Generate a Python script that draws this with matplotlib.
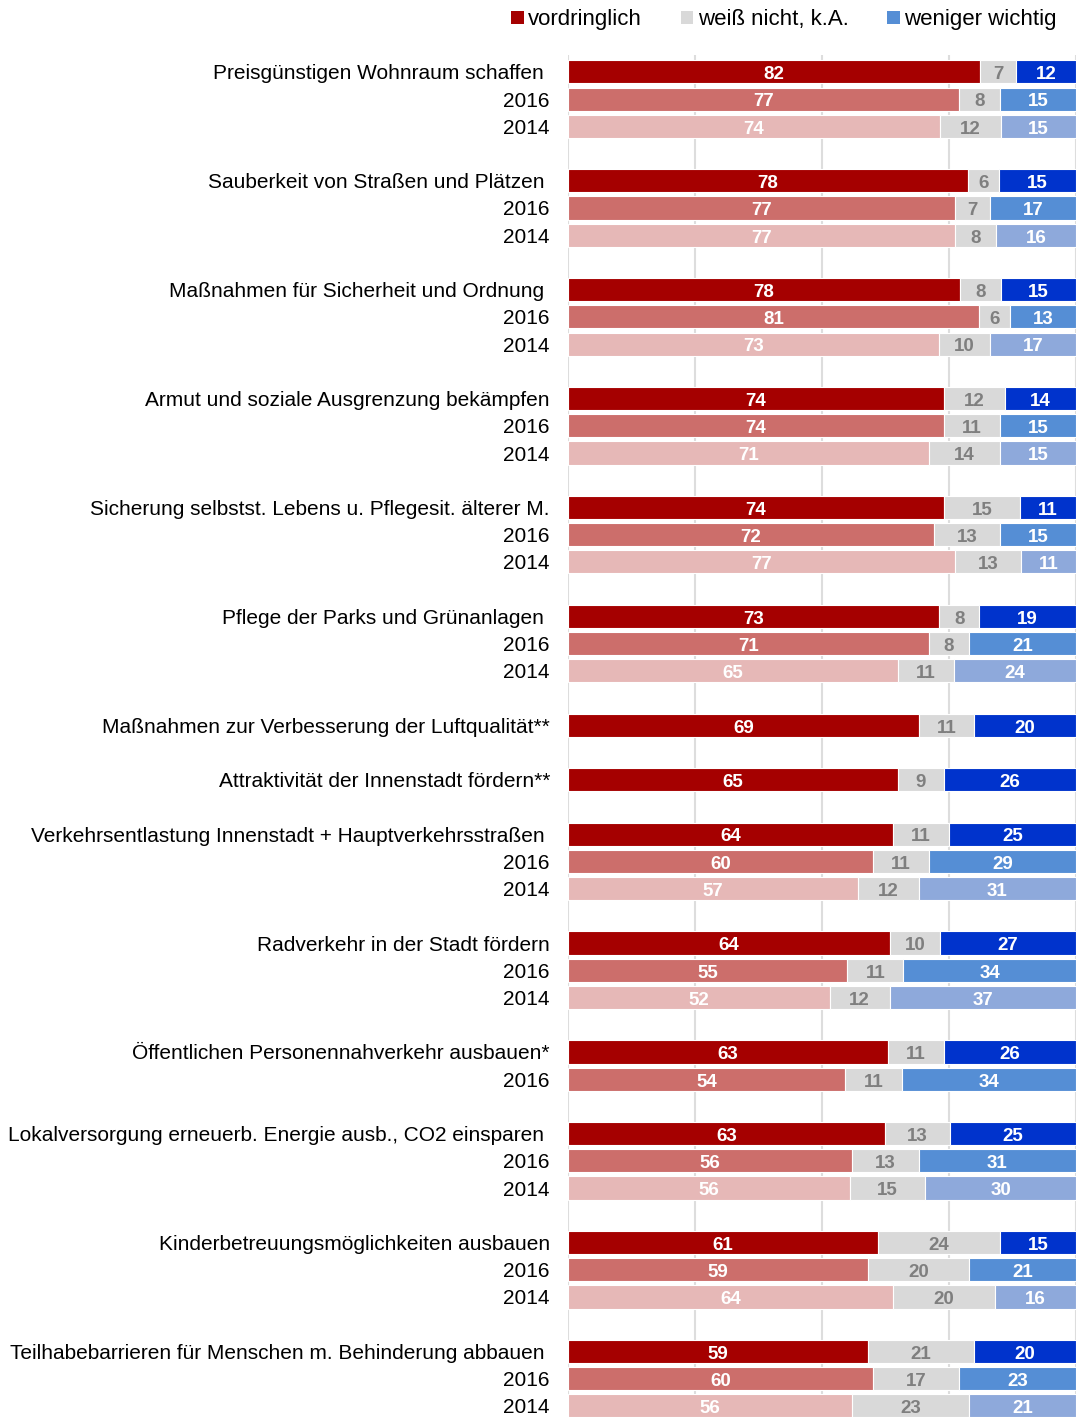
import numpy as np
import matplotlib.pyplot as plt
from matplotlib.patches import Patch

plt.rcParams['font.family'] = ['Liberation Sans', 'DejaVu Sans']

labels = ["Preisgünstigen Wohnraum schaffen ",
          "Sauberkeit von Straßen und Plätzen ",
          "Maßnahmen für Sicherheit und Ordnung ",
          "Armut und soziale Ausgrenzung bekämpfen",
          "Sicherung selbstst. Lebens u. Pflegesit. älterer M.",
          "Pflege der Parks und Grünanlagen ",
          "Maßnahmen zur Verbesserung der Luftqualität**",
          "Attraktivität der Innenstadt fördern**",
          "Verkehrsentlastung Innenstadt + Hauptverkehrsstraßen ",
          "Radverkehr in der Stadt fördern",
          "Öffentlichen Personennahverkehr ausbauen*",
          "Lokalversorgung erneuerb. Energie ausb., CO2 einsparen ",
          "Kinderbetreuungsmöglichkeiten ausbauen",
          "Teilhabebarrieren für Menschen m. Behinderung abbauen "]

# current survey: vordringlich, weiß nicht, weniger wichtig
cur_high = [82, 78, 78, 74, 74, 73, 69, 65, 64, 64, 63, 63, 61, 59]
cur_na   = [7, 6, 8, 12, 15, 8, 11, 9, 11, 10, 11, 13, 24, 21]
cur_low  = [12, 15, 15, 14, 11, 19, 20, 26, 25, 27, 26, 25, 15, 20]

y16_high = [77, 77, 81, 74, 72, 71, None, None, 60, 55, 54, 56, 59, 60]
y16_na   = [8, 7, 6, 11, 13, 8, None, None, 11, 11, 11, 13, 20, 17]
y16_low  = [15, 17, 13, 15, 15, 21, None, None, 29, 34, 34, 31, 21, 23]

y14_high = [74, 77, 73, 71, 77, 65, None, None, 57, 52, None, 56, 64, 56]
y14_na   = [12, 8, 10, 14, 13, 11, None, None, 12, 12, None, 15, 20, 23]
y14_low  = [15, 16, 17, 15, 11, 24, None, None, 31, 37, None, 30, 16, 21]

legend_labels = ["vordringlich", "weiß nicht, k.A.", "weniger wichtig"]

colors = {
    "cur": ["#A50000", "#D9D9D9", "#0033CC"],
    "2016": ["#CC6E6B", "#D9D9D9", "#558ED5"],
    "2014": ["#E6B8B7", "#D9D9D9", "#8EA9DB"],
}
text_colors = ["white", "#7F7F7F", "white"]

fig = plt.figure(figsize=(10.81, 14.17), dpi=100)
ax = fig.add_axes([568 / 1081, 0, (1076 - 568) / 1081, 1 - 55 / 1417])

rows = []  # (slot, vals, colorkey, label)
slot = 0
for i, lab in enumerate(labels):
    rows.append((slot, [cur_high[i], cur_na[i], cur_low[i]], "cur", lab))
    slot += 1
    if y16_high[i] is not None:
        rows.append((slot, [y16_high[i], y16_na[i], y16_low[i]], "2016", "2016"))
        slot += 1
    if y14_high[i] is not None:
        rows.append((slot, [y14_high[i], y14_na[i], y14_low[i]], "2014", "2014"))
        slot += 1
    slot += 1

for s, vals, key, lab in rows:
    total = sum(vals)
    left = 0
    for j, v in enumerate(vals):
        w = v / total * 100
        ax.barh(s, w, left=left, height=0.85, color=colors[key][j],
                edgecolor="white", linewidth=0.8, zorder=2)
        ax.text(left + w / 2, s + 0.27, str(v), ha="center", va="baseline",
                color=text_colors[j], fontsize=13.5, fontweight="bold", zorder=3)
        left += w

ax.set_yticks([r[0] for r in rows])
ax.set_yticklabels([r[3] for r in rows], fontsize=15)
ax.tick_params(axis="y", length=0, pad=13)
ax.set_xticks([0, 25, 50, 75, 100])
ax.tick_params(axis="x", length=0, labelbottom=False)
ax.grid(axis="x", color="#DDDDDD", linewidth=1.5, zorder=0)
ax.set_axisbelow(True)
for sp in ax.spines.values():
    sp.set_visible(False)
ax.set_xlim(0, 100)
ax.set_ylim(49.41, -0.62)

handles = [Patch(facecolor=c) for c in [colors["cur"][0], colors["cur"][1], colors["2016"][2]]]
fig.legend(handles, legend_labels, loc="center", bbox_to_anchor=(784 / 1081, 1 - 20 / 1417),
           ncol=3, frameon=False, fontsize=16, handlelength=0.55, handleheight=0.55,
           handletextpad=0.2, columnspacing=1.75)

fig.savefig("out.png", dpi=100)
